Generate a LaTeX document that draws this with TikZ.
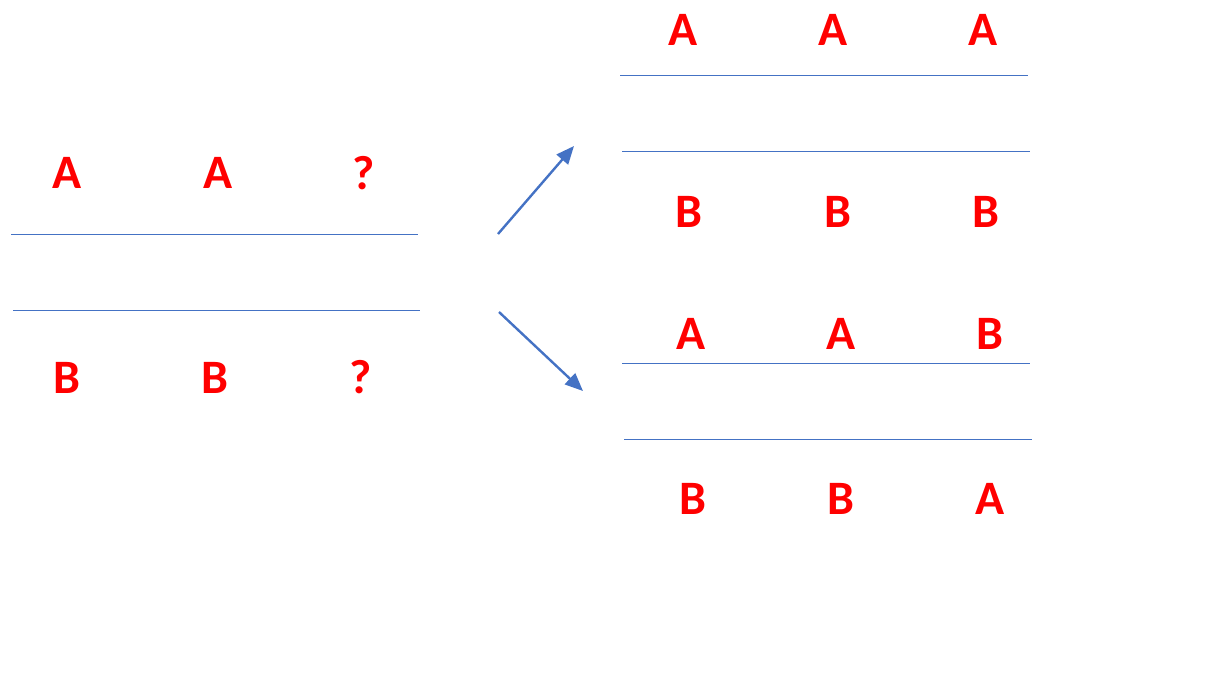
\documentclass[tikz,border=0pt]{standalone}
\usepackage{fontspec}
\setmainfont{Carlito}
\usetikzlibrary{arrows.meta}
\definecolor{lineblue}{HTML}{4472C4}
\definecolor{letterred}{HTML}{FF0000}
\tikzset{
  lbl/.style={text=letterred, font=\fontsize{24}{28}\selectfont\bfseries, inner sep=0pt, anchor=center},
  rule/.style={draw=lineblue, line width=0.5pt},
  pointer/.style={draw=lineblue, line width=1.2pt, -{Triangle[length=9pt,width=7.5pt]}}
}
\begin{document}
\begin{tikzpicture}[x=0.5pt,y=-0.5pt]
\useasboundingbox (0,0) rectangle (1230,675);

% left pair: undecided third column
\node[lbl] (l1) at (67,173) {A};
\node[lbl] (l2) at (218,173) {A};
\node[lbl] (l3) at (364,173) {?};
\coordinate (la1) at (11,234);  \coordinate (la2) at (418,234);
\coordinate (lb1) at (13,310);  \coordinate (lb2) at (420,310);
\draw[rule] (la1) -- (la2);
\draw[rule] (lb1) -- (lb2);
\node[lbl] (m1) at (67,378) {B};
\node[lbl] (m2) at (215,378) {B};
\node[lbl] (m3) at (361,377) {?};

% branching arrows
\coordinate (u0) at (498,234); \coordinate (u1) at (574,146);
\coordinate (d0) at (499,312); \coordinate (d1) at (583,391);
\draw[pointer] (u0) -- (u1);
\draw[pointer] (d0) -- (d1);

% upper outcome
\node[lbl] (t1) at (683,30) {A};
\node[lbl] (t2) at (833,30) {A};
\node[lbl] (t3) at (983,30) {A};
\coordinate (ta1) at (620,75);  \coordinate (ta2) at (1028,75);
\coordinate (tb1) at (622,151); \coordinate (tb2) at (1030,151);
\draw[rule] (ta1) -- (ta2);
\draw[rule] (tb1) -- (tb2);
\node[lbl] (s1) at (689,212) {B};
\node[lbl] (s2) at (838,212) {B};
\node[lbl] (s3) at (986,212) {B};

% lower outcome
\node[lbl] (p1) at (691,334) {A};
\node[lbl] (p2) at (841,334) {A};
\node[lbl] (p3) at (990,334) {B};
\coordinate (pa1) at (622,363); \coordinate (pa2) at (1030,363);
\coordinate (pb1) at (624,439); \coordinate (pb2) at (1032,439);
\draw[rule] (pa1) -- (pa2);
\draw[rule] (pb1) -- (pb2);
\node[lbl] (q1) at (693,499) {B};
\node[lbl] (q2) at (841,499) {B};
\node[lbl] (q3) at (990,499) {A};
\end{tikzpicture}
\end{document}
